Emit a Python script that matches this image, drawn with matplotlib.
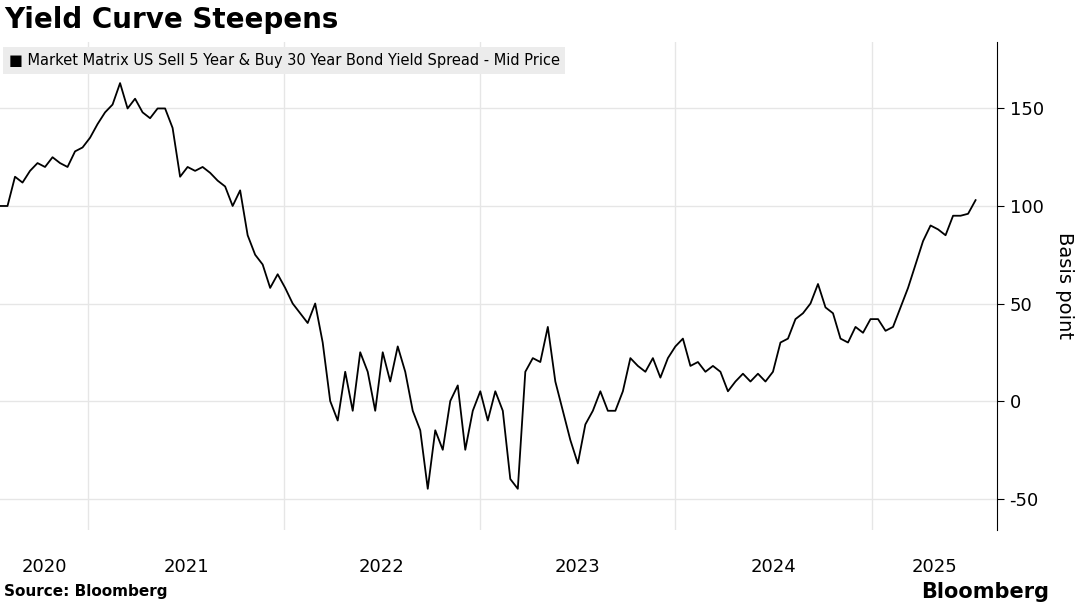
import matplotlib
matplotlib.use("Agg")
import matplotlib.pyplot as plt
import matplotlib.dates as mdates
import pandas as pd

plt.rcParams["axes.unicode_minus"] = False

start_date = "2020-07-20"
step_days = 14
spread_bp = [100,100,115,112,118,122,120,125,122,120,128,130,135,142,148,152,163,150,155,148,
             145,150,150,140,115,120,118,120,117,113,110,100,108,85,75,70,58,65,58,50,
             45,40,50,30,0,-10,15,-5,25,15,-5,25,10,28,15,-5,-15,-45,-15,-25,
             0,8,-25,-5,5,-10,5,-5,-40,-45,15,22,20,38,10,-5,-20,-32,-12,-5,
             5,-5,-5,5,22,18,15,22,12,22,28,32,18,20,15,18,15,5,10,14,
             10,14,10,15,30,32,42,45,50,60,48,45,32,30,38,35,42,42,36,38,
             48,58,70,82,90,88,85,95,95,96,103]
year_labels = ["2020", "2021", "2022", "2023", "2024", "2025"]
y_ticks = [-50, 0, 50, 100, 150]

dates = pd.date_range(start_date, periods=len(spread_bp), freq=f"{step_days}D")

fig = plt.figure(figsize=(10.76, 6.02), dpi=100)
ax = fig.add_axes([0.0, 0.12, 0.9266, 0.81])
ax.plot(dates, spread_bp, color="black", lw=1.3)
xmin, xmax = pd.Timestamp("2020-07-20"), pd.Timestamp("2025-08-23")
ax.set_xlim(xmin, xmax)
ax.set_ylim(-66, 184)
ax.yaxis.tick_right()
ax.set_yticks(y_ticks)
ax.tick_params(axis="y", labelsize=13, length=5, color="black", pad=4)
yr_starts = [pd.Timestamp(f"{y}-01-01") for y in range(2021, 2026)]
ax.set_xticks(yr_starts)
ax.set_xticklabels([])
ax.tick_params(axis="x", length=0)
ax.grid(True, color="#e6e6e6", lw=1)
for s in ["top", "left", "bottom"]:
    ax.spines[s].set_visible(False)
ax.spines["right"].set_color("black")
ax.set_axisbelow(True)
for lab in year_labels:
    y = int(lab)
    a = max(pd.Timestamp(f"{y}-01-01"), xmin)
    b = min(pd.Timestamp(f"{y+1}-01-01"), xmax)
    mid = a + (b - a) / 2
    ax.text(mdates.date2num(mid), -0.076, lab, transform=ax.get_xaxis_transform(),
            ha="center", va="center", fontsize=13)
ax.set_ylabel("Basis point", rotation=270, fontsize=14, labelpad=22)
ax.yaxis.set_label_position("right")

fig.text(0.004, 0.967, "Yield Curve Steepens", fontsize=20, fontweight="bold", va="center")
fig.text(0.008, 0.90, "\u25a0 Market Matrix US Sell 5 Year & Buy 30 Year Bond Yield Spread - Mid Price",
         fontsize=10.5, va="center",
         bbox=dict(boxstyle="square,pad=0.4", fc="#ececec", ec="none"))
fig.text(0.004, 0.017, "Source: Bloomberg", fontsize=11, fontweight="bold", va="center")
fig.text(0.975, 0.017, "Bloomberg", fontsize=15, fontweight="bold", va="center", ha="right")
fig.savefig("out.png", dpi=100)
